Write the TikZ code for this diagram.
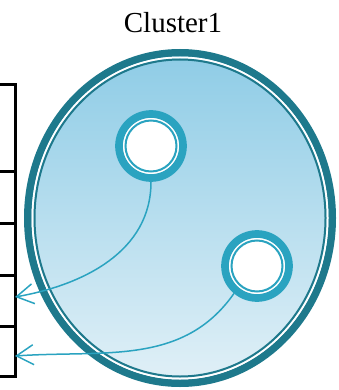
\documentclass[tikz,border=0pt]{standalone}
\usepackage{fontspec}
\setmainfont{Liberation Serif}
\usetikzlibrary{positioning,arrows.meta,shapes.geometric}
\definecolor{rim}{RGB}{30,121,140}
\definecolor{ring}{RGB}{42,163,192}
\definecolor{skytop}{RGB}{142,204,230}
\definecolor{skybot}{RGB}{225,240,247}

\begin{document}
\begin{tikzpicture}[x=1pt, y=-1pt,
    every node/.style={inner sep=0pt, outer sep=0pt},
    slot/.style={
        rectangle, draw, line width=3pt, minimum width=45pt
    },
    cluster/.style={
        ellipse, draw=rim, line width=7.5pt, top color=skytop, bottom color=skybot,
        minimum width=304.5pt, minimum height=330.5pt
    },
    proc/.style={
        circle, draw=ring, line width=7.7pt, fill=white,
        minimum size=64pt, outer sep=3.85pt
    },
    link/.style={ring, line width=1.5pt, -{Straight Barb[length=17pt,width=20pt]}}
]
\useasboundingbox (0,0) rectangle (338,390);

% Cluster
\node[cluster] (cl) at (180,218) {};
\draw[white, line width=2pt] (cl.center) ellipse [x radius=147.5pt, y radius=160.5pt];
\draw[rim, line width=2pt] (cl.center) ellipse [x radius=145.5pt, y radius=158.5pt];
\node[font=\fontsize{29}{34}\selectfont, anchor=base] (title) at (173,33) {Cluster1};

% Slots on the left (cut off by the page edge)
\node[slot, minimum height=86pt] (s1) at (-7.5,128) {};
\node[slot, minimum height=52pt, below=0pt of s1] (s2) {};
\node[slot, minimum height=52pt, below=0pt of s2] (s3) {};
\node[slot, minimum height=51pt, below=0pt of s3] (s4) {};
\node[slot, minimum height=50pt, below=0pt of s4] (s5) {};

% Processes
\node[proc] (p1) at (151,146) {};
\node[proc] (p2) at (257,266) {};
\foreach \p in {p1,p2} {
  \draw[ring, line width=2pt] (\p.center) circle [radius=25.5pt];
}

% Links
\draw[link] (p1.south) to[out=-90, in=10] ([yshift=3.5pt]s4.east);
\draw[link] (p2.-130) to[out=-125, in=4] ([yshift=-5pt]s5.east);

\end{tikzpicture}
\end{document}
